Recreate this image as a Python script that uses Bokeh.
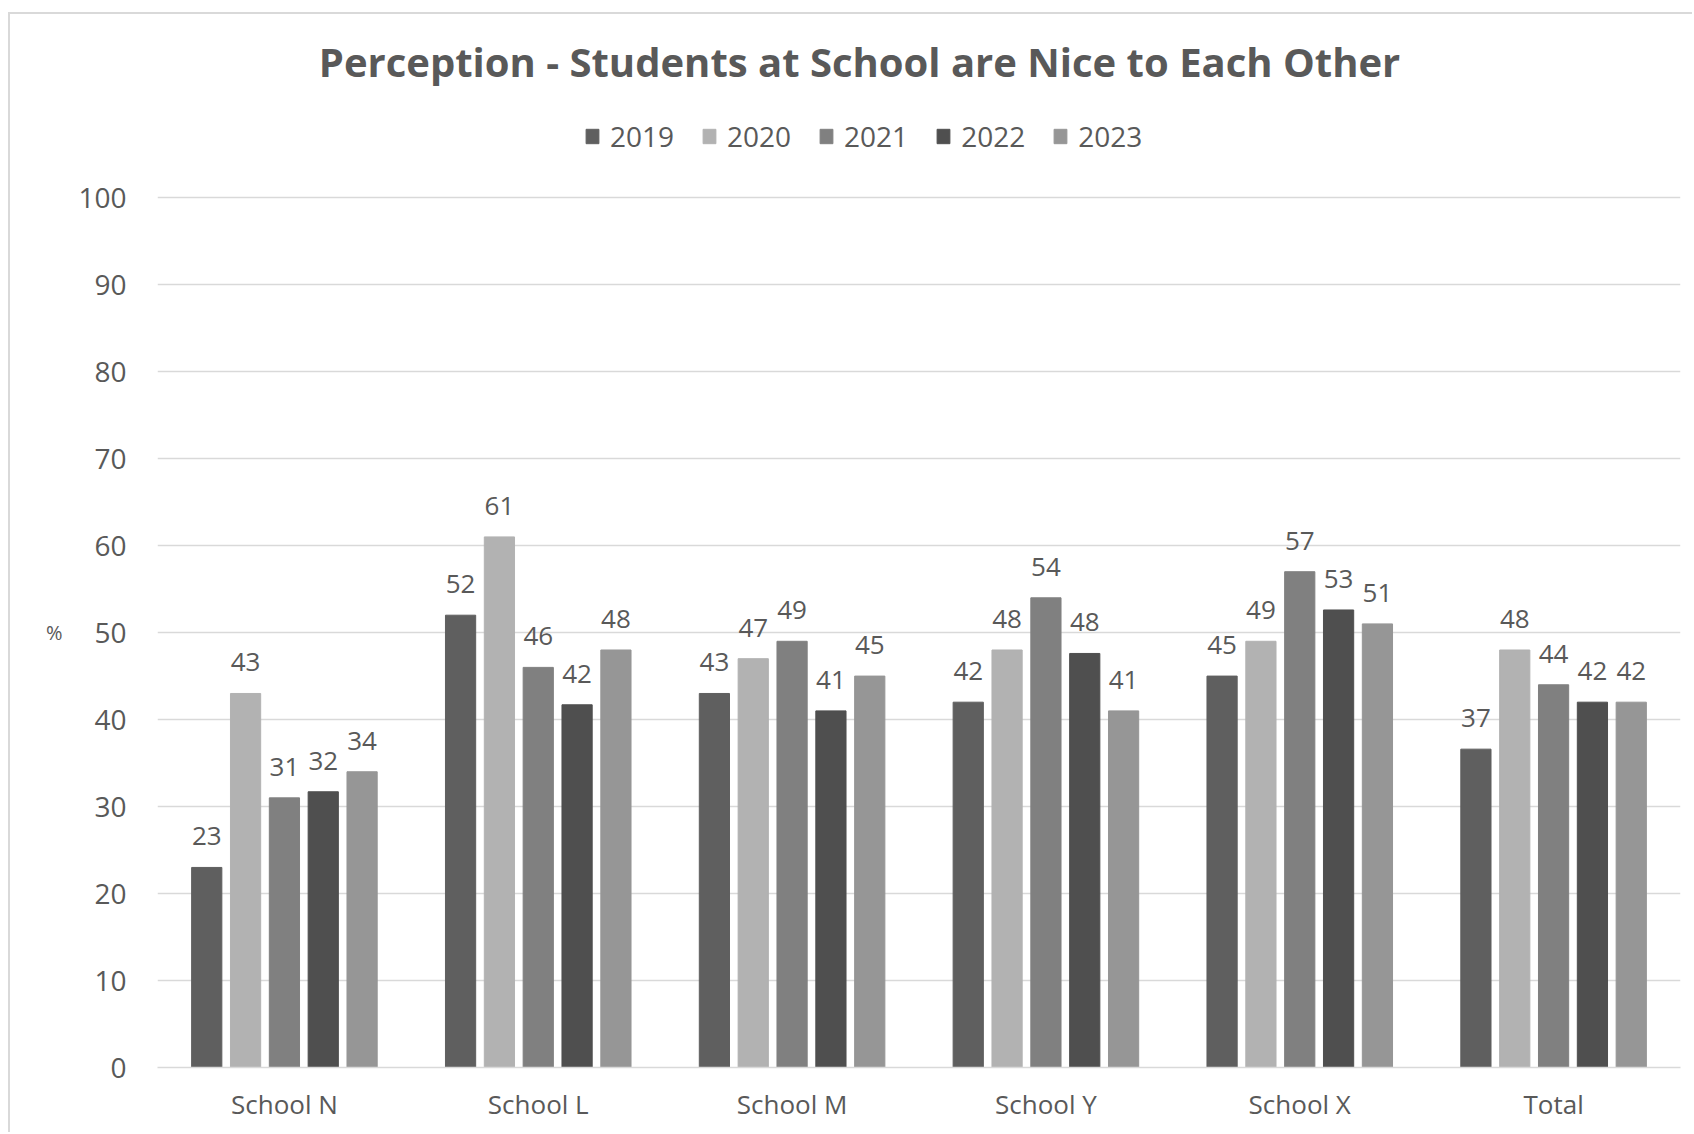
from bokeh.plotting import figure
from bokeh.models import (FactorRange, Range1d, ColumnDataSource, Legend, LegendItem,
                          Label, FixedTicker, LinearAxis)
from bokeh.transform import dodge
from bokeh.core.properties import value
from bokeh.embed import file_html
from bokeh.resources import INLINE

# ---- data ----
schools = ["School N", "School L", "School M", "School Y", "School X", "Total"]
years = ["2019", "2020", "2021", "2022", "2023"]
v2019 = [23, 52, 43, 42, 45, 36.6]
v2020 = [43, 61, 47, 48, 49, 48]
v2021 = [31, 46, 49, 54, 57, 44]
v2022 = [31.7, 41.7, 41, 47.6, 52.6, 42]
v2023 = [34, 48, 45, 41, 51, 42]
y_ticks = [0, 10, 20, 30, 40, 50, 60, 70, 80, 90, 100]
title_text = "Perception - Students at School are Nice to Each Other"
y_unit_label = "%"

series = [v2019, v2020, v2021, v2022, v2023]
colors = ["#5f5f5f", "#b2b2b2", "#808080", "#4f4f4f", "#969696"]
TEXT = "#595959"
FONT = "Open Sans"

data = {"school": schools}
for y, vals in zip(years, series):
    data["y" + y] = vals
    data["l" + y] = [str(int(v + 0.5)) for v in vals]
source = ColumnDataSource(data)

# frame extends above 100 so the title and legend sit inside it
p = figure(x_range=FactorRange(*schools, range_padding=0), y_range=Range1d(0, 121.06),
           width=1684, height=1120, output_backend="svg", toolbar_location=None,
           title=None, min_border_left=147, min_border_right=14,
           min_border_top=0, min_border_bottom=67,
           styles={"margin-left": "8px", "margin-top": "12px",
                   "border-left": "2px solid #d9d9d9", "border-top": "2px solid #d9d9d9"})
p.outline_line_color = None
p.background_fill_color = "white"
p.border_fill_color = "white"

# axes
p.yaxis.ticker = FixedTicker(ticks=y_ticks)
p.yaxis.axis_line_color = None
p.yaxis.major_tick_line_color = None
p.yaxis.minor_tick_line_color = None
p.yaxis.major_tick_out = 0
p.yaxis.major_tick_in = 0
p.yaxis.major_label_standoff = 31
p.yaxis.major_label_text_font = FONT
p.yaxis.major_label_text_font_size = "28px"
p.yaxis.major_label_text_color = TEXT

# "%" unit label, placed at the middle of the scale
unit_axis = LinearAxis(ticker=FixedTicker(ticks=[50]),
                       major_label_overrides={50: y_unit_label},
                       axis_line_color=None, major_tick_line_color=None,
                       minor_tick_line_color=None, major_tick_out=0, major_tick_in=0,
                       major_label_standoff=13, major_label_text_font=FONT,
                       major_label_text_font_size="20px", major_label_text_color=TEXT)
p.add_layout(unit_axis, "left")

p.xaxis.axis_line_color = "#d9d9d9"
p.xaxis.axis_line_width = 1.5
p.xaxis.major_tick_line_color = None
p.xaxis.major_tick_out = 0
p.xaxis.major_tick_in = 0
p.xaxis.major_label_standoff = 18
p.xaxis.major_label_text_font = FONT
p.xaxis.major_label_text_font_size = "26px"
p.xaxis.major_label_text_color = TEXT

p.xgrid.grid_line_color = None
p.ygrid.grid_line_color = "#d9d9d9"
p.ygrid.grid_line_width = 1.5

# bars + labels
step = 0.153
items = []
for i, (y, c) in enumerate(zip(years, colors)):
    off = (i - 2) * step
    r = p.vbar(x=dodge("school", off, range=p.x_range), top="y" + y, width=0.119,
               source=source, fill_color=c, line_color=c)
    p.text(x=dodge("school", off, range=p.x_range), y="y" + y, text="l" + y,
           source=source, text_align="center", text_baseline="alphabetic",
           y_offset=-31, text_font=value(FONT), text_font_size=value("26px"),
           text_color=TEXT)
    items.append(LegendItem(label=y, renderers=[r]))

legend = Legend(items=items, orientation="horizontal", location=(427, 912),
                label_text_font=FONT, label_text_font_size="28px",
                label_text_color=TEXT, glyph_width=16, glyph_height=18,
                label_standoff=10, spacing=27, padding=0, margin=0,
                border_line_color=None, background_fill_alpha=0)
p.add_layout(legend)

title = Label(x=702, y=1006, x_units="screen", y_units="screen", text=title_text,
              text_align="center", text_baseline="alphabetic", text_font=FONT,
              text_font_size="40px", text_font_style="bold", text_color=TEXT)
p.add_layout(title)

open("out.html", "w").write(file_html(p, INLINE))
